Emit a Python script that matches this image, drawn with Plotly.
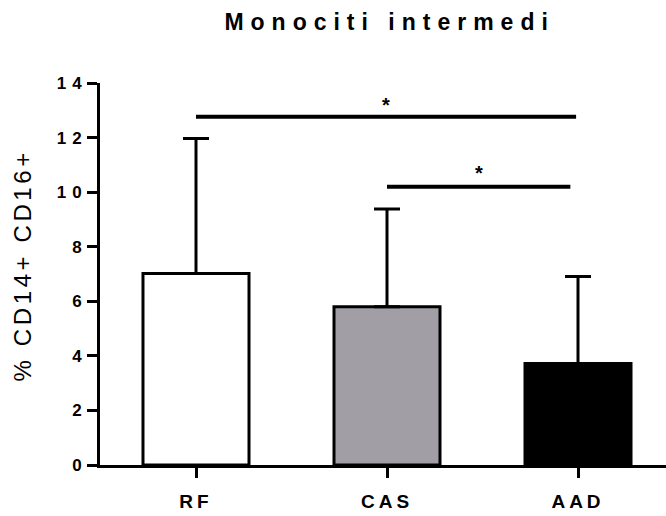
import plotly.graph_objects as go

# ---- data ----
categories = ["RF", "CAS", "AAD"]
means = [7.02, 5.8, 3.72]
sd_upper = [4.95, 3.58, 3.19]
bar_colors = ["#ffffff", "#a19fa5", "#000000"]
y_ticks = [0, 2, 4, 6, 8, 10, 12, 14]

sig_from = ["RF", "CAS"]
sig_to = ["AAD", "AAD"]
sig_height = [12.76, 10.2]
sig_star_y = [13.2, 10.7]
sig_label = ["*", "*"]

y_title = "% CD14+ CD16+"
chart_title = "Monociti intermedi"

FONT = "Arial, Liberation Sans, sans-serif"

fig = go.Figure()
fig.add_trace(go.Bar(
    x=categories, y=means,
    width=0.555,
    marker=dict(color=bar_colors, line=dict(color="black", width=3)),
    error_y=dict(type="data", symmetric=False, array=sd_upper,
                 arrayminus=[0] * len(means), color="black",
                 thickness=3, width=13),
    showlegend=False,
))

idx = {c: i for i, c in enumerate(categories)}
for a, b, h, sy, lab in zip(sig_from, sig_to, sig_height, sig_star_y, sig_label):
    x0 = idx[a]
    x1 = idx[b] - (0.01 if a == "RF" else 0.04)
    fig.add_shape(type="line", xref="x", yref="y", x0=x0, x1=x1, y0=h, y1=h,
                  line=dict(color="black", width=4))
    fig.add_annotation(x=(x0 + x1) / 2, y=sy, text=lab, showarrow=False,
                       xref="x", yref="y", yanchor="middle",
                       font=dict(family=FONT, size=20, color="black", weight="bold"))

# y-axis title as a rotated annotation
fig.add_annotation(text=y_title, textangle=-90, showarrow=False,
                   xref="paper", yref="paper", x=0, y=0.5,
                   xanchor="center", yanchor="middle",
                   xshift=-78, yshift=8,
                   font=dict(family=FONT, size=24, color="black"))

fig.update_layout(
    width=666, height=516,
    margin=dict(l=100, r=0, t=83, b=51),
    paper_bgcolor="white", plot_bgcolor="white",
    title=dict(text=chart_title, x=0.585, xanchor="center",
               y=1 - 22 / 516, yanchor="middle", yref="container",
               font=dict(family=FONT, size=23, color="black", weight="bold")),
    font=dict(family=FONT, color="black"),
)
fig.update_xaxes(
    type="category", range=[-0.5026, 2.4607],
    showline=True, linecolor="black", linewidth=3,
    ticks="outside", ticklen=10, tickwidth=3, tickcolor="black",
    ticklabelstandoff=7,
    tickfont=dict(family=FONT, size=19, color="black", weight="bold"),
    showgrid=False, zeroline=False, fixedrange=True,
)
fig.update_yaxes(
    range=[0, 14], tickvals=y_ticks,
    showline=True, linecolor="black", linewidth=3,
    ticks="outside", ticklen=10, tickwidth=3, tickcolor="black",
    ticklabelstandoff=-4,
    tickfont=dict(family=FONT, size=17, color="black", weight="bold"),
    showgrid=False, zeroline=False, fixedrange=True,
)

js = """
document.body.style.margin = '0';
document.body.style.padding = '0';
var gd = document.getElementById('{plot_id}');
function sp(sel, v){ gd.querySelectorAll(sel).forEach(function(e){ e.style.letterSpacing = v; }); }
sp('.gtitle', '7px');
sp('.xtick text', '4px');
sp('.ytick text', '6px');
gd.querySelectorAll('text').forEach(function(e){
  if (e.textContent.indexOf('CD14') >= 0) { e.style.letterSpacing = '3.6px'; }
});
"""
fig.write_html("out.html", post_script=js, config={"staticPlot": True})
